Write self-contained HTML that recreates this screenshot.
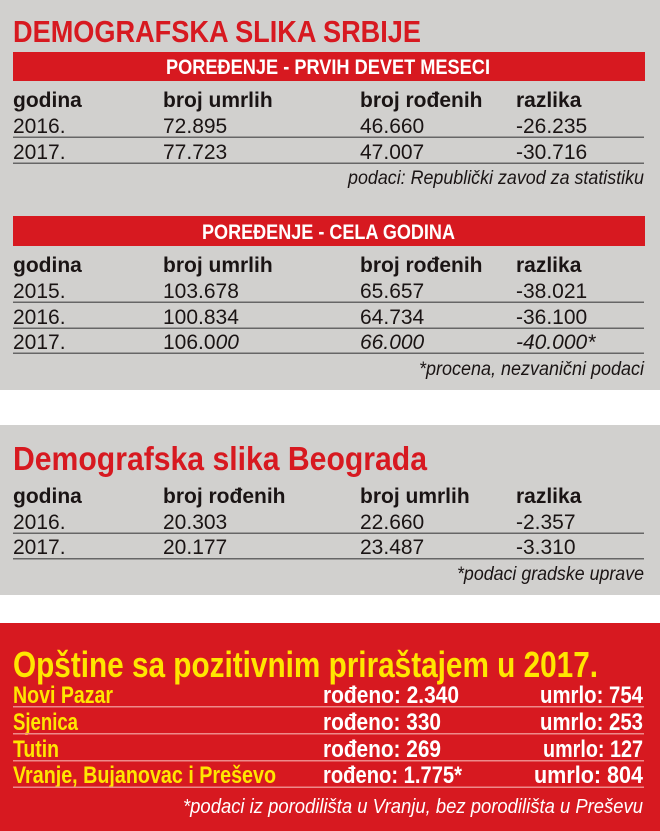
<!DOCTYPE html>
<html><head><meta charset="utf-8"><style>
html,body{margin:0;padding:0;background:#fff;}
svg{display:block}
.h{font-family:"Liberation Sans",sans-serif;font-weight:bold;font-size:21px;fill:#1a1414}
.v{font-family:"Liberation Sans",sans-serif;font-size:21px;fill:#1a1414}
.vi{font-family:"Liberation Sans",sans-serif;font-size:21px;font-style:italic;fill:#1a1414}
.n{font-family:"Liberation Sans Narrow","Liberation Sans",sans-serif;font-style:italic;font-size:19px;fill:#1a1414}
.t{font-family:"Liberation Sans Narrow","Liberation Sans",sans-serif;font-weight:bold;fill:#d71920}
.bar{font-family:"Liberation Sans Narrow","Liberation Sans",sans-serif;font-weight:bold;font-size:21px;fill:#fff}
.y{font-family:"Liberation Sans Narrow","Liberation Sans",sans-serif;font-weight:bold;font-size:24px;fill:#ffe600}
.w{font-family:"Liberation Sans Narrow","Liberation Sans",sans-serif;font-weight:bold;font-size:24px;fill:#fff}
</style></head><body>
<svg width="660" height="831" viewBox="0 0 660 831" xmlns="http://www.w3.org/2000/svg">
<rect x="0" y="0" width="660" height="390" fill="#d1d0ce"/>
<rect x="0" y="425" width="660" height="170" fill="#d1d0ce"/>
<rect x="0" y="623" width="660" height="208" fill="#d71920"/>

<text class="t" x="13" y="42" font-size="31" textLength="408" lengthAdjust="spacingAndGlyphs">DEMOGRAFSKA SLIKA SRBIJE</text>
<rect x="13" y="52" width="632" height="29" fill="#d71920"/>
<text class="bar" x="166" y="74" textLength="324" lengthAdjust="spacingAndGlyphs">POREĐENJE - PRVIH DEVET MESECI</text>
<text class="h" x="13" y="107">godina</text><text class="h" x="163" y="107">broj umrlih</text><text class="h" x="360" y="107">broj rođenih</text><text class="h" x="516" y="107">razlika</text>
<text class="v" x="13" y="133">2016.</text><text class="v" x="163" y="133">72.895</text><text class="v" x="360" y="133">46.660</text><text class="v" x="516" y="133">-26.235</text>
<rect x="13" y="136.5" width="631" height="1.5" fill="#666"/>
<text class="v" x="13" y="159">2017.</text><text class="v" x="163" y="159">77.723</text><text class="v" x="360" y="159">47.007</text><text class="v" x="516" y="159">-30.716</text>
<rect x="13" y="162.5" width="631" height="1.5" fill="#666"/>
<text class="n" x="348" y="184" textLength="296" lengthAdjust="spacingAndGlyphs">podaci: Republički zavod za statistiku</text>

<rect x="13" y="216" width="632" height="30" fill="#d71920"/>
<text class="bar" x="202" y="239" textLength="253" lengthAdjust="spacingAndGlyphs">POREĐENJE - CELA GODINA</text>
<text class="h" x="13" y="272">godina</text><text class="h" x="163" y="272">broj umrlih</text><text class="h" x="360" y="272">broj rođenih</text><text class="h" x="516" y="272">razlika</text>
<text class="v" x="13" y="298">2015.</text><text class="v" x="163" y="298">103.678</text><text class="v" x="360" y="298">65.657</text><text class="v" x="516" y="298">-38.021</text>
<rect x="13" y="301.5" width="631" height="1.5" fill="#666"/>
<text class="v" x="13" y="324">2016.</text><text class="v" x="163" y="324">100.834</text><text class="v" x="360" y="324">64.734</text><text class="v" x="516" y="324">-36.100</text>
<rect x="13" y="327.5" width="631" height="1.5" fill="#666"/>
<text class="v" x="13" y="349">2017.</text><text class="v" x="163" y="349">106.0<tspan font-style="italic">00</tspan></text><text class="vi" x="360" y="349">66.000</text><text class="vi" x="516" y="349">-40.000*</text>
<rect x="13" y="352.5" width="631" height="1.5" fill="#666"/>
<text class="n" x="419" y="375" textLength="225" lengthAdjust="spacingAndGlyphs">*procena, nezvanični podaci</text>

<text class="t" x="13" y="470" font-size="33" textLength="414" lengthAdjust="spacingAndGlyphs">Demografska slika Beograda</text>
<text class="h" x="13" y="503">godina</text><text class="h" x="163" y="503">broj rođenih</text><text class="h" x="360" y="503">broj umrlih</text><text class="h" x="516" y="503">razlika</text>
<text class="v" x="13" y="529">2016.</text><text class="v" x="163" y="529">20.303</text><text class="v" x="360" y="529">22.660</text><text class="v" x="516" y="529">-2.357</text>
<rect x="13" y="532.5" width="631" height="1.5" fill="#666"/>
<text class="v" x="13" y="554">2017.</text><text class="v" x="163" y="554">20.177</text><text class="v" x="360" y="554">23.487</text><text class="v" x="516" y="554">-3.310</text>
<rect x="13" y="558" width="631" height="1.5" fill="#666"/>
<text class="n" x="457" y="580" textLength="187" lengthAdjust="spacingAndGlyphs">*podaci gradske uprave</text>

<text x="13" y="677" font-family="Liberation Sans Narrow, Liberation Sans, sans-serif" font-weight="bold" font-size="36" fill="#ffe600" textLength="585" lengthAdjust="spacingAndGlyphs">Opštine sa pozitivnim priraštajem u 2017.</text>
<text class="y" x="13" y="703" textLength="100" lengthAdjust="spacingAndGlyphs">Novi Pazar</text>
<text class="w" x="323" y="703" textLength="136" lengthAdjust="spacingAndGlyphs">rođeno: 2.340</text>
<text class="w" x="540" y="703" textLength="103" lengthAdjust="spacingAndGlyphs">umrlo: 754</text>
<rect x="13" y="706" width="631" height="1.5" fill="#ee8a8a"/>
<text class="y" x="13" y="730" textLength="65" lengthAdjust="spacingAndGlyphs">Sjenica</text>
<text class="w" x="323" y="730" textLength="118" lengthAdjust="spacingAndGlyphs">rođeno: 330</text>
<text class="w" x="540" y="730" textLength="103" lengthAdjust="spacingAndGlyphs">umrlo: 253</text>
<rect x="13" y="733" width="631" height="1.5" fill="#ee8a8a"/>
<text class="y" x="13" y="757" textLength="46" lengthAdjust="spacingAndGlyphs">Tutin</text>
<text class="w" x="323" y="757" textLength="118" lengthAdjust="spacingAndGlyphs">rođeno: 269</text>
<text class="w" x="543" y="757" textLength="100" lengthAdjust="spacingAndGlyphs">umrlo: 127</text>
<rect x="13" y="760" width="631" height="1.5" fill="#ee8a8a"/>
<text class="y" x="13" y="783" textLength="263" lengthAdjust="spacingAndGlyphs">Vranje, Bujanovac i Preševo</text>
<text class="w" x="323" y="783" textLength="139" lengthAdjust="spacingAndGlyphs">rođeno: 1.775*</text>
<text class="w" x="534" y="783" textLength="109" lengthAdjust="spacingAndGlyphs">umrlo: 804</text>
<rect x="13" y="786.5" width="631" height="1.5" fill="#ee8a8a"/>
<text x="183" y="813" font-family="Liberation Sans Narrow, Liberation Sans, sans-serif" font-style="italic" font-size="20" fill="#fff" textLength="460" lengthAdjust="spacingAndGlyphs">*podaci iz porodilišta u Vranju, bez porodilišta u Preševu</text>
</svg>
</body></html>
